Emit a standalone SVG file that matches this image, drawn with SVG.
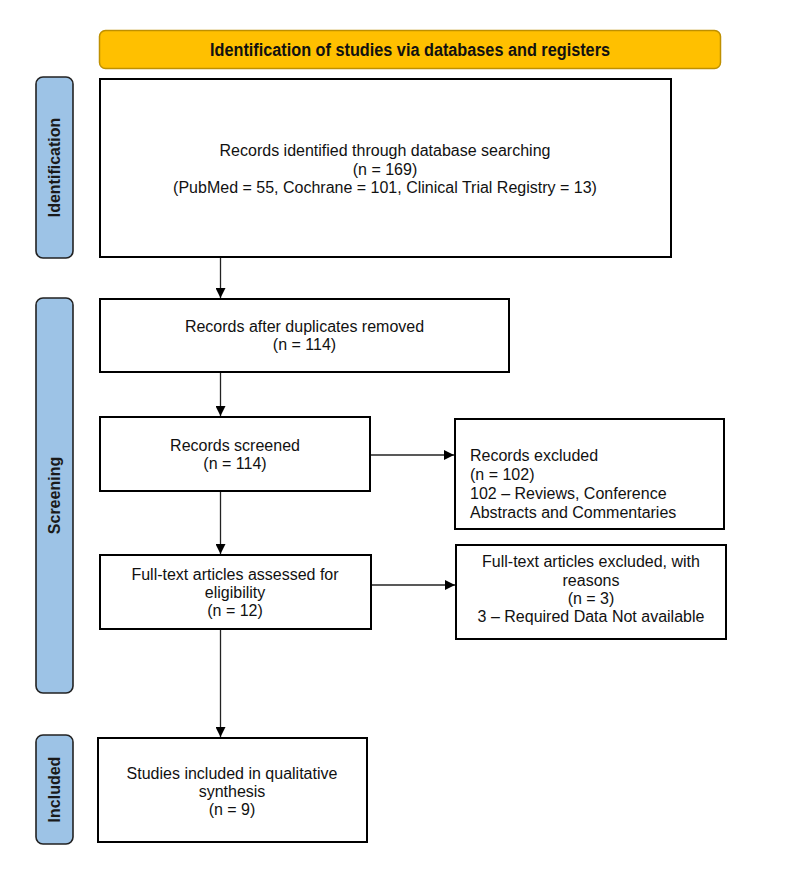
<svg xmlns="http://www.w3.org/2000/svg" width="800" height="871" viewBox="0 0 800 871">
<defs>
<marker id="arr" viewBox="0 0 10 10" refX="10" refY="5" markerWidth="10" markerHeight="10" markerUnits="userSpaceOnUse" orient="auto">
<path d="M0,0 L10,5 L0,10 Z" fill="#000"/>
</marker>
<style>
.box{fill:#fff;stroke:#000;stroke-width:2}
.side{fill:#9DC3E6;stroke:#222;stroke-width:1.6}
.t{font-family:"Liberation Sans",Arial,sans-serif;font-size:16px;fill:#111}
.c{text-anchor:middle}
.sl{font-family:"Liberation Sans",Arial,sans-serif;font-size:16px;font-weight:bold;fill:#1a1a1a;text-anchor:middle}
.con{stroke:#222;stroke-width:1.3;fill:none;marker-end:url(#arr)}
</style>
</defs>
<rect width="800" height="871" fill="#fff"/>

<g id="header">
<rect x="99.5" y="30.5" width="621" height="38" rx="6" fill="#FFC000" stroke="#BF9000" stroke-width="1.5"/>
<text x="410" y="55.5" font-family="'Liberation Sans',Arial,sans-serif" font-size="18" font-weight="bold" fill="#111" text-anchor="middle" textLength="400" lengthAdjust="spacingAndGlyphs">Identification of studies via databases and registers</text>
</g>

<g id="label-identification">
<rect class="side" x="36" y="77" width="37" height="181" rx="7"/>
<text class="sl" transform="translate(54.5,167.5) rotate(-90)" y="5.5">Identification</text>
</g>
<g id="label-screening">
<rect class="side" x="36" y="298" width="37" height="395" rx="7"/>
<text class="sl" transform="translate(54.5,495.5) rotate(-90)" y="5.5">Screening</text>
</g>
<g id="label-included">
<rect class="side" x="36" y="735" width="37" height="109" rx="7"/>
<text class="sl" transform="translate(54.5,789.5) rotate(-90)" y="5.5">Included</text>
</g>

<g id="identified">
<rect class="box" x="100" y="79" width="571" height="178" stroke-width="2.5"/>
<text class="t c" x="385" y="156">Records identified through database searching</text>
<text class="t c" x="385" y="175">(n = 169)</text>
<text class="t c" x="385" y="193">(PubMed = 55, Cochrane = 101, Clinical Trial Registry = 13)</text>
</g>

<g id="dedup">
<rect class="box" x="100" y="299" width="409" height="73"/>
<text class="t c" x="304.5" y="332">Records after duplicates removed</text>
<text class="t c" x="304.5" y="350">(n = 114)</text>
</g>

<g id="screened">
<rect class="box" x="100" y="417" width="270" height="74"/>
<text class="t c" x="235" y="451">Records screened</text>
<text class="t c" x="235" y="469">(n = 114)</text>
</g>

<g id="excluded">
<rect class="box" x="455" y="419" width="269" height="110"/>
<text class="t" x="470" y="461">Records excluded</text>
<text class="t" x="470" y="480">(n = 102)</text>
<text class="t" x="470" y="499">102 – Reviews, Conference</text>
<text class="t" x="470" y="518">Abstracts and Commentaries</text>
</g>

<g id="fulltext">
<rect class="box" x="100" y="555" width="271" height="74"/>
<text class="t c" x="235" y="580">Full-text articles assessed for</text>
<text class="t c" x="235" y="598">eligibility</text>
<text class="t c" x="235" y="616">(n = 12)</text>
</g>

<g id="ft-excluded">
<rect class="box" x="456" y="545" width="270" height="94" stroke-width="3"/>
<text class="t c" x="591" y="567">Full-text articles excluded, with</text>
<text class="t c" x="591" y="586">reasons</text>
<text class="t c" x="591" y="604">(n = 3)</text>
<text class="t c" x="591" y="622">3 – Required Data Not available</text>
</g>

<g id="included">
<rect class="box" x="98" y="738" width="269" height="104" stroke-width="2.5"/>
<text class="t c" x="232" y="779">Studies included in qualitative</text>
<text class="t c" x="232" y="797">synthesis</text>
<text class="t c" x="232" y="815">(n = 9)</text>
</g>

<g id="connectors">
<line class="con" x1="220.5" y1="258" x2="220.5" y2="298"/>
<line class="con" x1="220.5" y1="373" x2="220.5" y2="416"/>
<line class="con" x1="371" y1="455" x2="454" y2="455"/>
<line class="con" x1="220.5" y1="492" x2="220.5" y2="554"/>
<line class="con" x1="372" y1="585" x2="455" y2="585"/>
<line class="con" x1="220.5" y1="630" x2="220.5" y2="737"/>
</g>
</svg>
